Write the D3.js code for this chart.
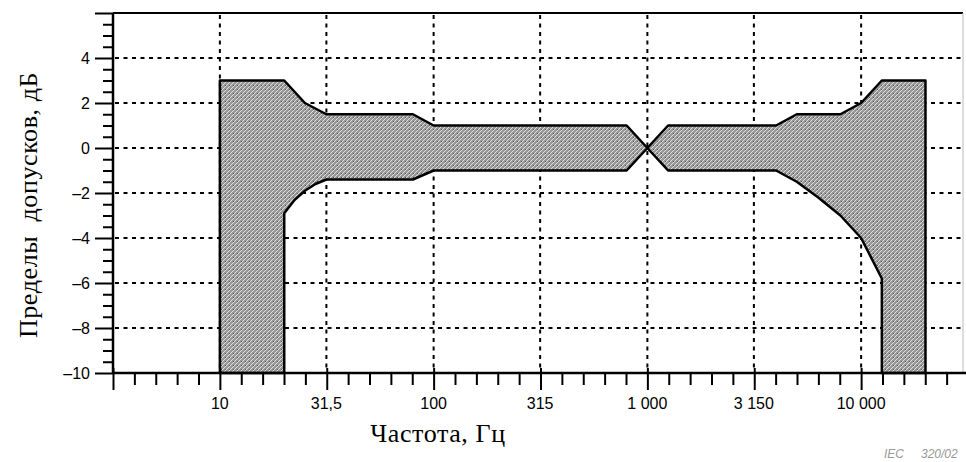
<!DOCTYPE html>
<html>
<head>
<meta charset="utf-8">
<script src="https://cdn.jsdelivr.net/npm/d3@7"></script>
<style>
  body { margin: 0; background: #fff; }
  svg { display: block; }
</style>
</head>
<body>
<svg id="chart" width="966" height="462"></svg>
<script>
// tolerance band
const upperFreq = [10, 20, 25, 31.5, 80, 100, 800, 1000, 1250, 4000, 5000, 8000, 10000, 12500, 20000]
const upperDb = [3, 3, 2, 1.5, 1.5, 1, 1, 0, 1, 1, 1.5, 1.5, 2, 3, 3]
const lowerFreq = [10, 20, 20, 22.4, 25, 28, 31.5, 80, 100, 800, 1000, 1250, 4000, 5000, 6300, 8000, 10000, 12500, 12500, 20000]
const lowerDb = [-10, -10, -2.9, -2.3, -1.9, -1.6, -1.4, -1.4, -1, -1, 0, -1, -1, -1.5, -2.2, -3, -4, -5.8, -10, -10]

const xLabelFreq = [10, 31.5, 100, 315, 1000, 3150, 10000]
const xLabels = ["10", "31,5", "100", "315", "1 000", "3 150", "10 000"]
const yLabelValues = [4, 2, 0, -2, -4, -6, -8, -10]

const svg = d3.select("#chart")
const pLeft = 113, pRight = 963, pTop = 13, pBottom = 373

let x = d3.scaleLog().domain([Math.pow(10, 0.5), Math.pow(10, 4.5)]).range([113, 968])
let y = d3.scaleLinear().domain([-10, 6]).range([pBottom, pTop])

// hatch fill
let defs = svg.append("defs")
let pat = defs.append("pattern").attr("id", "hatch")
  .attr("patternUnits", "userSpaceOnUse").attr("width", 4).attr("height", 4)
pat.append("rect").attr("width", 4).attr("height", 4).attr("fill", "#989898")
pat.append("path").attr("d", "M-1,1 L1,-1 M0,4 L4,0 M3,5 L5,3")
  .attr("stroke", "#dedede").attr("stroke-width", 1)
pat.append("rect").attr("x", 1).attr("y", 1).attr("width", 1).attr("height", 1).attr("fill", "#555")

// grid
let grid = svg.append("g").attr("stroke", "#000").attr("stroke-width", 2).attr("stroke-dasharray", "4,4.5")
grid.selectAll("line.h").data([4, 2, 0, -2, -4, -6, -8]).enter().append("line")
  .attr("x1", pLeft + 2).attr("x2", pRight).attr("y1", d => y(d)).attr("y2", d => y(d))
grid.selectAll("line.v").data(xLabelFreq).enter().append("line")
  .attr("x1", d => x(d)).attr("x2", d => x(d)).attr("y1", pTop + 2).attr("y2", pBottom)

// band
let band = upperFreq.map((f, i) => [f, upperDb[i]])
  .concat(lowerFreq.map((f, i) => [f, lowerDb[i]]).reverse())
svg.append("path")
  .attr("d", d3.line().x(d => x(d[0])).y(d => y(d[1]))(band) + "Z")
  .attr("fill", "url(#hatch)").attr("stroke", "#000").attr("stroke-width", 2.5)
  .attr("stroke-linejoin", "round")

// frame
svg.append("line").attr("x1", pLeft).attr("x2", pRight).attr("y1", pTop).attr("y2", pTop)
  .attr("stroke", "#000").attr("stroke-width", 2)
svg.append("line").attr("x1", pRight).attr("x2", pRight).attr("y1", pTop).attr("y2", pBottom)
  .attr("stroke", "#bbb").attr("stroke-width", 1)

// x axis
let xTicks = d3.range(5, 46).map(k => Math.pow(10, k / 10))
let xAxis = svg.append("g").attr("transform", `translate(0,${pBottom})`)
  .call(d3.axisBottom(x).tickValues(xTicks).tickSize(12).tickFormat(""))
xAxis.select(".domain").attr("d", `M${pLeft},0H966`).attr("stroke-width", 2.5)
xAxis.selectAll(".tick line").attr("stroke-width", 2)
  .attr("y1", (d, i) => i % 5 == 0 ? -5 : 0)
  .attr("y2", (d, i) => i % 5 == 0 ? 17 : 12)
svg.append("g").selectAll("text").data(xLabelFreq).enter().append("text")
  .attr("x", d => x(d)).attr("y", 409).attr("text-anchor", "middle")
  .attr("font-family", "Liberation Sans, Arial, sans-serif").attr("font-size", 16)
  .text((d, i) => xLabels[i])

// y axis
let yAxis = svg.append("g").attr("transform", `translate(${pLeft},0)`)
  .call(d3.axisLeft(y).tickValues(d3.range(-10, 6.01, 0.5)).tickSize(10).tickFormat(""))
yAxis.select(".domain").attr("d", `M0,${pTop}V${pBottom}`).attr("stroke-width", 2.5)
yAxis.selectAll(".tick line").attr("stroke-width", 2)
  .attr("x2", d => d % 2 == 0 ? -18 : -10)
svg.append("g").selectAll("text").data(yLabelValues).enter().append("text")
  .attr("x", 90).attr("y", d => y(d)).attr("dy", "0.35em").attr("text-anchor", "end")
  .attr("font-family", "Liberation Sans, Arial, sans-serif").attr("font-size", 16)
  .text(d => d < 0 ? "\u2013" + Math.abs(d) : d)

// titles
svg.append("text").attr("x", 438).attr("y", 442).attr("text-anchor", "middle")
  .attr("font-family", "Liberation Serif, Times New Roman, serif").attr("font-size", 26)
  .attr("letter-spacing", 0.6)
  .text("Частота, Гц")
svg.append("text").attr("transform", "translate(37,205) rotate(-90)").attr("text-anchor", "middle")
  .attr("font-family", "Liberation Serif, Times New Roman, serif").attr("font-size", 26)
  .attr("letter-spacing", 0.6).style("white-space", "pre")
  .text("Пределы  допусков, дБ")
let mark = svg.append("g").attr("font-family", "Liberation Sans, Arial, sans-serif")
  .attr("font-size", 12).attr("font-style", "italic").attr("fill", "#999")
mark.append("text").attr("x", 884).attr("y", 458).text("IEC")
mark.append("text").attr("x", 921).attr("y", 458).text("320/02")
</script>
</body>
</html>
